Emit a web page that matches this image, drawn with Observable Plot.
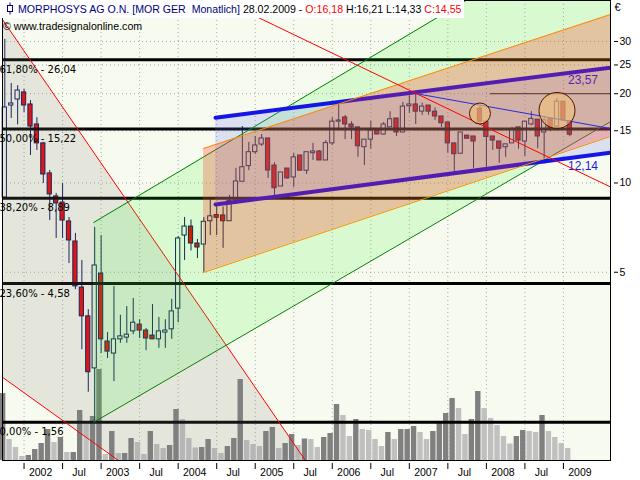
<!DOCTYPE html>
<html><head><meta charset="utf-8">
<script src="https://cdn.jsdelivr.net/npm/d3@7"></script>
<script src="https://cdn.jsdelivr.net/npm/@observablehq/plot@0.6"></script>
<style>
body{margin:0;background:#fff;}
#wrap{position:relative;width:640px;height:480px;overflow:hidden;font-family:"Liberation Sans",Arial,sans-serif;}
#wrap > svg{position:absolute;left:0;top:0;}
#title{position:absolute;left:2px;top:0;height:18px;line-height:18px;background:#fff;padding:0 3px 0 4px;font-size:10.6px;white-space:pre;color:#000;}
#title svg{display:inline-block;vertical-align:-2px;margin-right:4px;}
#copy{position:absolute;left:3px;top:18px;line-height:16px;font-size:10.6px;white-space:pre;color:#000;}
</style></head><body>
<div id="wrap"></div>
<script>
// ---- data (monthly bars, index 0 = Oct 2001, 88 = Feb 2009) ----
const symbolName = "MORPHOSYS AG O.N. [MOR GER  Monatlich]";
const lastDate = "28.02.2009";
const open  = [8.93,18.25,19.12,20.2,18.4,15.75,13.6,10.77,9.01,8.59,
               7.42,6.35,4.44,3.55,2.37,4.95,2.92,2.66,2.97,3.01,
               3.16,3.33,3.18,3.06,2.97,3.13,3.21,3.77,6.65,7.13,
               6.25,6.2,7.43,7.8,7.77,7.43,8.73,10.1,11.4,12.7,
               13.48,14.13,11.45,9.73,11.19,10.44,12.38,11.0,12.6,12.77,
               11.91,13.6,16.1,16.63,15.75,15.4,13.2,14.0,15.03,14.57,
               15.4,16.5,14.8,18.15,18.4,17.4,18.25,17.4,16.76,16.0,
               13.6,12.55,14.45,14.35,17.8,16.1,14.35,13.8,13.2,13.6,
               15.4,13.8,15.75,16.35,14.8,16.45,15.5,18.8,16.18];
const high  = [30.5,21.65,21.3,20.67,18.97,16.6,13.7,11.02,9.22,9.96,
               7.65,6.76,5.48,3.74,7.08,6.65,3.13,4.48,3.58,3.83,
               4.08,3.46,3.23,3.89,3.52,3.46,4.05,6.6,7.65,7.5,
               6.45,7.65,8.8,8.46,8.3,9.08,11.2,15.5,13.7,14.35,
               14.57,14.13,11.7,10.85,11.19,12.57,12.38,12.7,13.6,12.87,
               13.91,16.6,18.6,16.9,16.1,15.4,14.0,16.12,15.03,16.0,
               17.4,16.5,18.7,19.7,20.0,18.6,18.25,17.9,16.76,16.0,
               13.6,14.8,14.45,14.35,18.1,16.1,14.35,13.8,13.5,15.4,
               15.4,16.1,17.4,16.35,16.76,16.45,19.3,18.8,16.21];
const low   = [8.93,16.5,15.7,17.29,12.38,12.87,9.96,7.47,6.5,6.5,
               5.35,4.37,2.74,1.97,1.56,2.66,2.56,2.14,2.88,2.88,
               3.08,2.99,2.72,2.97,2.77,2.77,2.97,3.38,5.48,5.9,
               5.56,5.0,6.65,6.65,6.02,7.43,8.46,10.1,11.0,12.48,
               13.28,10.36,8.93,9.73,10.3,9.66,11.0,10.68,11.91,11.91,
               11.91,13.38,15.0,14.0,14.0,12.2,11.45,13.0,14.57,14.5,
               15.4,14.35,14.8,17.15,15.75,16.9,16.9,16.25,15.4,12.6,
               10.9,12.55,14.1,11.2,15.9,11.3,12.87,11.65,12.2,13.6,
               13.0,12.28,15.6,13.05,11.6,14.9,14.95,16.25,14.33];
const close = [17.97,18.54,20.5,18.25,15.5,13.6,10.68,9.15,8.53,7.47,
               6.4,4.48,3.55,2.30,5.27,2.97,2.70,2.97,3.04,3.08,
               3.38,3.18,2.99,2.97,3.16,3.18,3.69,6.5,7.13,6.25,
               6.06,7.4,7.72,7.63,7.43,8.7,10.12,11.3,12.7,13.38,
               14.13,11.02,9.6,10.85,10.36,12.2,11.0,12.7,12.77,11.91,
               13.63,16.1,16.25,15.75,15.4,13.3,14.0,15.03,14.57,15.75,
               16.4,14.8,18.1,18.4,17.4,18.1,17.4,16.76,15.9,13.6,
               12.5,14.8,14.1,13.8,16.1,14.3,13.9,13.05,13.5,15.1,
               13.9,16.1,16.45,14.35,16.25,15.2,18.8,16.25,14.55];
const volume = [67,21,13,4,5,11,17,31,18,23,
                8,8,50,38,44,91,6,29,7,7,
                22,18,6,29,16,12,15,51,41,22,
                12.5,13,21,12,7,14,22,81,20,16,
                14,29,33,12,17,26,15,21.5,21,13,
                23,27,56,45,24,41,31,30,21,14,
                28,21,31,31,34,28,21,29,38,47,
                62,52,26,41,69,52,42,35,24,16.5,
                24,30,29,28,45,29,23,17,12];
const xLabels = ["2002","Jul","2003","Jul","2004","Jul","2005","Jul","2006","Jul","2007","Jul","2008","Jul","2009"];
const firstTick = 3; // Jan 2002
const yTicks = [5,10,15,20,25,30];
const fibPct = ["61,80%","50,00%","38,20%","23,60%","0,00%"];
const fibVal = [26.04,15.22,8.89,4.58,1.56];
// trend channels: [month index], [price]
const grayX = [-4,50],      grayHi = [46.3,0.92],   grayLo = [2.52,0.365];
const greenX = [13.85,95],  greenHi = [7.36,82.2],  greenLo = [1.56,16.41];
const orangeX = [30.95,95], orangeHi = [13.07,37.4], orangeLo = [4.99,14.51];
const blueX = [32.82,95],   blueHi = [16.6,24.6],   blueLo = [8.46,12.71];
const redTrendX = [33,95],  redTrend = [42.2,9.54];
const blueTrendX = [63.96,95], blueTrend = [20.03,15.17];
const level20X = [75.6,95], level20 = [20,20];
const channelValues = [23.57,12.14];
const circleX = [74,86], circleP = [17.15,17.56];

// ---- derived rows ----
const n = open.length;
const bars = d3.range(n).map(i => ({i, o: open[i], h: high[i], l: low[i], c: close[i], v: volume[i],
  up: close[i] >= open[i], vup: i === 0 || volume[i] >= volume[i - 1]}));
const band = (xs, lo, hi) => xs.map((x, k) => ({x, lo: lo[k], hi: hi[k]}));
const seg = (xs, ys) => xs.map((x, k) => ({x, y: ys[k]}));
const xTicks = xLabels.map((_, k) => firstTick + 6 * k);
const labelRows = xLabels.map((t, k) => ({t, x: xTicks[k] + 2.57}));
const comma = v => v.toFixed(2).replace(".", ",");
const fibRows = fibVal.map((v, k) => ({v, t: `${fibPct[k]} - ${comma(v)}`}));
const xDomain = [-0.358, 94.33];
const bg = "#f7faee", navy = "#0a1458", red = "#ee0000";

const common = {width: 640, height: 480, marginLeft: 2, marginRight: 30, marginTop: 0, marginBottom: 20};

const volPlot = Plot.plot({
  ...common,
  style: {background: "transparent"},
  x: {domain: xDomain, axis: null},
  y: {domain: [0, 100], range: [460, 360], axis: null},
  marks: [
    Plot.frame({fill: bg, stroke: null}),
    Plot.ruleX(xTicks, {stroke: "#a8a8a8", strokeDasharray: "1,3"}),
    Plot.rectY(bars, {filter: d => d.vup, x1: d => d.i - 0.68, x2: d => d.i + 0.16, y1: 0, y2: "v", fill: "#808080"}),
    Plot.rectY(bars, {filter: d => !d.vup, x1: d => d.i - 0.68, x2: d => d.i + 0.16, y1: 0, y2: "v", fill: "#c0c0c0"})
  ]
});

const last = bars[n - 1];
const pricePlot = Plot.plot({
  ...common,
  style: {background: "transparent", fontFamily: "'Liberation Sans', Arial, sans-serif", fontSize: "10.5px", color: "#000"},
  x: {domain: xDomain, axis: null},
  y: {type: "log", domain: [1.1594, 41.24], axis: null},
  marks: [
    Plot.ruleY(yTicks, {stroke: "#a8a8a8", strokeDasharray: "1,3"}),
    // candles
    Plot.ruleX(bars, {x: "i", y1: "l", y2: "h", stroke: navy, strokeWidth: 1}),
    Plot.rect(bars, {filter: d => d.up, x1: d => d.i - 0.33, x2: d => d.i + 0.33, y1: "o", y2: "c", fill: bg, stroke: navy}),
    Plot.rect(bars, {filter: d => !d.up, x1: d => d.i - 0.33, x2: d => d.i + 0.33, y1: "o", y2: "c", fill: red, stroke: navy}),
    // fibonacci levels
    Plot.ruleY(fibVal, {stroke: "#000", strokeWidth: 3}),
    Plot.line(seg(level20X, level20), {x: "x", y: "y", stroke: "#000", strokeWidth: 1, clip: true}),
    // gray falling channel
    Plot.areaY(band(grayX, grayLo, grayHi), {x: "x", y1: "lo", y2: "hi", fill: "#808080", fillOpacity: 0.16, clip: true}),
    Plot.line(seg(grayX, grayHi), {x: "x", y: "y", stroke: "#ff0000", strokeWidth: 1, clip: true}),
    Plot.line(seg(grayX, grayLo), {x: "x", y: "y", stroke: "#ff0000", strokeWidth: 1, clip: true}),
    // green rising channel
    Plot.areaY(band(greenX, greenLo, greenHi), {x: "x", y1: "lo", y2: "hi", fill: "#00ff00", fillOpacity: 0.12, clip: true}),
    Plot.line(seg(greenX, greenHi), {x: "x", y: "y", stroke: "#008000", strokeWidth: 1, clip: true}),
    Plot.line(seg(greenX, greenLo), {x: "x", y: "y", stroke: "#008000", strokeWidth: 1, clip: true}),
    // blue channel
    Plot.areaY(band(blueX, blueLo, blueHi), {x: "x", y1: "lo", y2: "hi", fill: "rgb(112,120,248)", fillOpacity: 0.2, clip: true}),
    Plot.line(seg(blueX, blueHi), {x: "x", y: "y", stroke: "#1515e8", strokeWidth: 4, clip: true}),
    Plot.line(seg(blueX, blueLo), {x: "x", y: "y", stroke: "#1515e8", strokeWidth: 4, clip: true}),
    Plot.text(channelValues, {x: n - 1 + 2.05, y: d => d * 0.94, text: d => comma(d), fill: "#1a1ae6", fontSize: 12}),
    // orange channel
    Plot.areaY(band(orangeX, orangeLo, orangeHi), {x: "x", y1: "lo", y2: "hi", fill: "rgb(255,50,30)", fillOpacity: 0.27, clip: true}),
    Plot.line(seg(orangeX, orangeHi), {x: "x", y: "y", stroke: "#ff8c00", strokeWidth: 1, clip: true}),
    Plot.line(seg(orangeX, orangeLo), {x: "x", y: "y", stroke: "#ff8c00", strokeWidth: 1, clip: true}),
    // thin trend lines
    Plot.line(seg(blueTrendX, blueTrend), {x: "x", y: "y", stroke: "#2a2ae0", strokeWidth: 1, clip: true}),
    Plot.line(seg(redTrendX, redTrend), {x: "x", y: "y", stroke: "#ff0000", strokeWidth: 1, clip: true}),
    // highlight circles
    Plot.dot([0], {x: circleX[0], y: circleP[0], r: 10.5, fill: "#f2c27a", fillOpacity: 0.6, stroke: "#4a1800", strokeWidth: 1}),
    Plot.dot([0], {x: circleX[1], y: circleP[1], r: 18, fill: "#f2c27a", fillOpacity: 0.6, stroke: "#4a1800", strokeWidth: 1}),
    // fib labels
    Plot.text(fibRows, {y: "v", text: "t", frameAnchor: "left", textAnchor: "start", lineAnchor: "middle", dx: -3, dy: 10, fill: "#000", fontFamily: "'DejaVu Sans', Verdana, sans-serif", fontSize: 10}),
    // frame & axes
    Plot.frame({stroke: "#000"}),
    Plot.axisY(yTicks, {anchor: "right", tickSize: 4, tickPadding: 2, dx: 3, tickFormat: d => String(d), fontSize: 10.5}),
    Plot.axisX(xTicks, {anchor: "bottom", tickSize: 6, tickFormat: () => "", dy: 3}),
    Plot.text(labelRows, {x: "x", text: "t", frameAnchor: "bottom", textAnchor: "middle", lineAnchor: "middle", dy: 12, fill: "#000", fontSize: 10.5}),
    Plot.text(["€"], {frameAnchor: "top-right", textAnchor: "start", lineAnchor: "middle", dx: 4, dy: 7, fill: "#000", fontSize: 11})
  ]
});

const wrap = document.getElementById("wrap");
wrap.appendChild(volPlot);
wrap.appendChild(pricePlot);

const title = document.createElement("div");
title.id = "title";
title.innerHTML = `<svg width="8" height="13"><line x1="4" y1="0.5" x2="4" y2="12.5" stroke="#000080"/><rect x="1.5" y="3.5" width="5" height="6" fill="#fff" stroke="#000080"/></svg>` +
  `<span style="color:#000080">${symbolName}</span> ${lastDate} - <span style="color:#ff0000">O:${comma(last.o)}</span> H:${comma(last.h)} L:${comma(last.l)} <span style="color:#ff0000">C:${comma(last.c)}</span>`;
wrap.appendChild(title);
const copy = document.createElement("div");
copy.id = "copy";
copy.textContent = "© www.tradesignalonline.com";
wrap.appendChild(copy);
</script>
</body></html>
